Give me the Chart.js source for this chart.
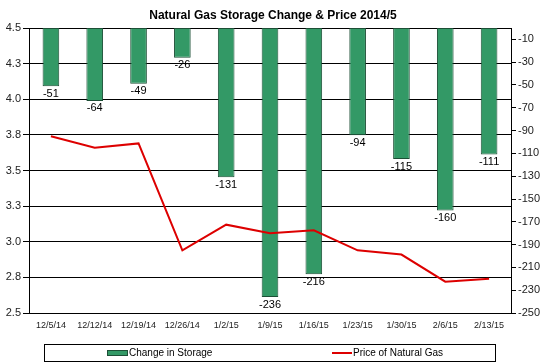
<!DOCTYPE html>
<html>
<head>
<meta charset="utf-8">
<script src="https://cdn.jsdelivr.net/npm/chart.js@4/dist/chart.umd.min.js"></script>
<style>
    html, body { margin: 0; padding: 0; background: #fff; }
    #wrap { width: 546px; height: 364px; position: relative; }
</style>
</head>
<body>
<div id="wrap"><canvas id="myChart" width="546" height="364"></canvas></div>
<script>
var weeks = ["12/5/14", "12/12/14", "12/19/14", "12/26/14", "1/2/15", "1/9/15", "1/16/15", "1/23/15", "1/30/15", "2/6/15", "2/13/15"];
var storageChange = [-51, -64, -49, -26, -131, -236, -216, -94, -115, -160, -111];
var gasPrice = [3.74, 3.66, 3.69, 2.94, 3.12, 3.06, 3.08, 2.94, 2.91, 2.72, 2.74];
var priceTicks = [2.5, 2.75, 3.0, 3.25, 3.5, 3.75, 4.0, 4.25, 4.5];
var storageTicks = [-250, -230, -210, -190, -170, -150, -130, -110, -90, -70, -50, -30, -10];

var chartTitle = "Natural Gas Storage Change & Price 2014/5";
var barLabel = "Change in Storage";
var lineLabel = "Price of Natural Gas";

var barColor = "#339966";
var barEdge = "#1d4f36";
var lineColor = "#dd0000";
var fontName = "Arial, 'Liberation Sans', sans-serif";

Chart.defaults.font.family = fontName;
Chart.defaults.color = "#111";

// title, value labels and boxed legend
var extras = {
    id: "extras",
    afterDatasetsDraw: function (chart) {
        var ctx = chart.ctx;
        ctx.save();
        ctx.fillStyle = "#000";
        ctx.font = "11px " + fontName;
        ctx.textAlign = "center";
        ctx.textBaseline = "top";
        var meta = chart.getDatasetMeta(0);
        meta.data.forEach(function (bar, i) {
            ctx.fillText(String(storageChange[i]), bar.x, bar.y + 2);
        });
        ctx.restore();
    },
    afterDraw: function (chart) {
        var ctx = chart.ctx;
        ctx.save();
        ctx.fillStyle = "#000";
        ctx.font = "bold 12px " + fontName;
        ctx.textAlign = "center";
        ctx.textBaseline = "middle";
        ctx.fillText(chartTitle, 273, 16);

        ctx.strokeStyle = "#000";
        ctx.lineWidth = 1;
        ctx.strokeRect(44.5, 344.5, 451, 17);

        ctx.fillStyle = barColor;
        ctx.fillRect(107, 350, 20, 5);
        ctx.strokeStyle = barEdge;
        ctx.strokeRect(107.5, 350.5, 20, 5);

        ctx.strokeStyle = lineColor;
        ctx.lineWidth = 2;
        ctx.beginPath();
        ctx.moveTo(332, 353);
        ctx.lineTo(352, 353);
        ctx.stroke();

        ctx.fillStyle = "#000";
        ctx.font = "10px " + fontName;
        ctx.textAlign = "left";
        ctx.fillText(barLabel, 129, 353);
        ctx.fillText(lineLabel, 353, 353);
        ctx.restore();
    }
};

var myChart = document.getElementById("myChart").getContext("2d");
var chart = new Chart(myChart, {
    type: "bar",
    data: {
        labels: weeks,
        datasets: [
            {
                type: "bar",
                label: barLabel,
                data: storageChange,
                yAxisID: "y2",
                backgroundColor: barColor,
                borderColor: barEdge,
                borderWidth: 1,
                borderSkipped: false,
                categoryPercentage: 1,
                barPercentage: 0.38,
                order: 2,
            },
            {
                type: "line",
                label: lineLabel,
                data: gasPrice,
                yAxisID: "y",
                borderColor: lineColor,
                backgroundColor: lineColor,
                borderWidth: 2,
                pointRadius: 0,
                tension: 0,
                order: 1,
            },
        ],
    },
    options: {
        responsive: false,
        animation: false,
        layout: { padding: { top: 28, left: 0, right: 0, bottom: 0 } },
        plugins: {
            legend: { display: false },
            title: { display: false },
            tooltip: { enabled: false },
        },
        scales: {
            x: {
                grid: { display: false, drawTicks: false },
                border: { display: true, color: "#000" },
                ticks: { font: { size: 9 }, padding: 7, maxRotation: 0, autoSkip: false, color: "#222" },
                afterFit: function (scale) { scale.height = 51; },
            },
            y: {
                position: "left",
                min: 2.5,
                max: 4.5,
                grid: { color: "#000", lineWidth: 1, tickLength: 6, tickColor: "#000" },
                border: { display: true, color: "#000" },
                ticks: {
                    font: { size: 11 },
                    padding: 2,
                    color: "#222",
                    callback: function (v) { return v.toFixed(1); },
                },
                afterBuildTicks: function (scale) {
                    scale.ticks = priceTicks.map(function (v) { return { value: v }; });
                },
                afterFit: function (scale) { scale.width = 29; },
            },
            y2: {
                position: "right",
                min: -250,
                max: 0,
                grid: { drawOnChartArea: false, tickLength: 5, tickColor: "#000", color: "#000" },
                border: { display: true, color: "#000" },
                ticks: { font: { size: 11 }, padding: 2, color: "#222" },
                afterBuildTicks: function (scale) {
                    scale.ticks = storageTicks.map(function (v) { return { value: v }; });
                },
                afterFit: function (scale) { scale.width = 35; },
            },
        },
    },
    plugins: [extras],
});
</script>
</body>
</html>
